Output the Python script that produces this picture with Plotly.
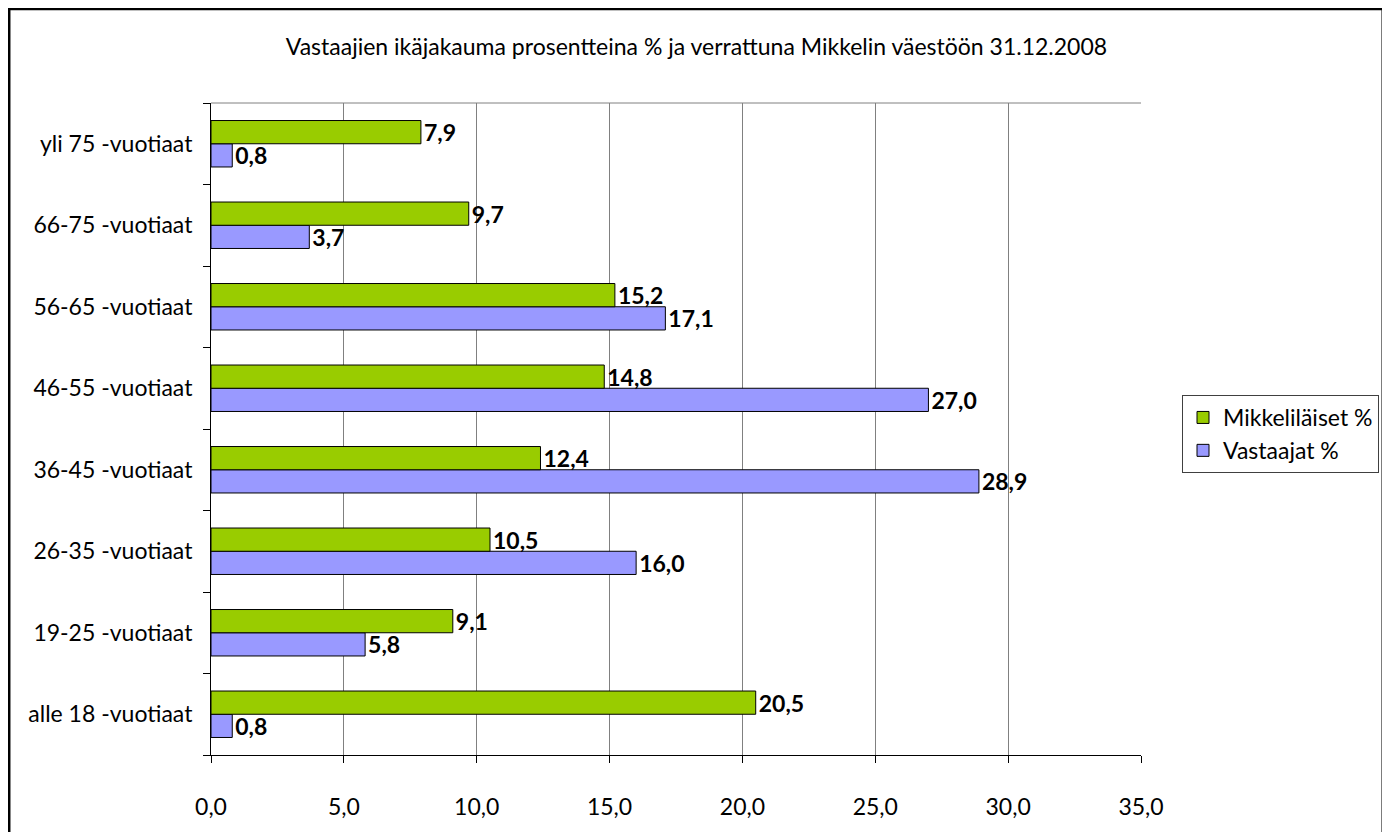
import plotly.graph_objects as go

categories = ["alle 18 -vuotiaat", "19-25 -vuotiaat", "26-35 -vuotiaat", "36-45 -vuotiaat",
              "46-55 -vuotiaat", "56-65 -vuotiaat", "66-75 -vuotiaat", "yli 75 -vuotiaat"]
mikkelilaiset = [20.5, 9.1, 10.5, 12.4, 14.8, 15.2, 9.7, 7.9]
vastaajat = [0.8, 5.8, 16.0, 28.9, 27.0, 17.1, 3.7, 0.8]
x_ticks = [0, 5, 10, 15, 20, 25, 30, 35]
x_tick_labels = ["0,0", "5,0", "10,0", "15,0", "20,0", "25,0", "30,0", "35,0"]

FONT = "Lato"
FS = 23

def fmt(v):
    return f"{v:.1f}".replace(".", ",")

fig = go.Figure()
fig.add_trace(go.Bar(
    y=categories, x=vastaajat, orientation="h", name="Vastaajat %",
    legendgroup="v", legendrank=2,
    marker=dict(color="#9999FF", line=dict(color="black", width=1)),
    text=[fmt(v) for v in vastaajat], textposition="outside", cliponaxis=False,
    constraintext="none",
    textfont=dict(family=FONT, size=FS, color="black", weight="bold"),
))
fig.add_trace(go.Bar(
    y=categories, x=mikkelilaiset, orientation="h", name="Mikkeliläiset %",
    legendgroup="m", legendrank=1,
    marker=dict(color="#99CC00", line=dict(color="black", width=1)),
    text=[fmt(v) for v in mikkelilaiset], textposition="outside", cliponaxis=False,
    constraintext="none",
    textfont=dict(family=FONT, size=FS, color="black", weight="bold"),
))

# page is offset by the 8px body margin; coordinates below are figure-local
W, H = 1382, 824
L, R, T, B = 203, 1134, 95, 747
pw, ph = R - L, B - T

def px_x(p):
    return (p - L) / pw

def px_y(p):
    return (B - p) / ph

fig.update_layout(
    width=W, height=H,
    margin=dict(l=L, r=W - R, t=T, b=H - B),
    paper_bgcolor="white", plot_bgcolor="white",
    barmode="group", bargap=0.43, bargroupgap=0,
    font=dict(family=FONT, size=FS, color="black"),
    title=dict(text="Vastaajien ikäjakauma prosentteina % ja verrattuna Mikkelin väestöön 31.12.2008",
               x=px_x(689), xref="paper", xanchor="center", y=1 - 39 / H, yanchor="middle",
               font=dict(family=FONT, size=FS, color="black")),
    legend=dict(x=px_x(1174), y=px_y(387), xanchor="left", yanchor="top",
                bordercolor="#404040", borderwidth=1, traceorder="grouped",
                font=dict(family=FONT, size=FS, color="black"),
                itemwidth=30, tracegroupgap=0),
    xaxis=dict(range=[0, 35], tickvals=x_ticks, ticktext=x_tick_labels,
               showgrid=True, gridcolor="#808080", gridwidth=1,
               showline=True, linecolor="black", linewidth=1,
               ticks="outside", ticklen=7, tickcolor="black",
               ticklabelstandoff=24, zeroline=False, fixedrange=True),
    yaxis=dict(type="category", categoryorder="array", categoryarray=categories,
               showline=True, linecolor="black", linewidth=1,
               ticks="outside", ticklen=7, tickcolor="black", tickson="boundaries",
               showgrid=False, ticklabelstandoff=13, fixedrange=True),
    shapes=[
        dict(type="line", xref="paper", yref="paper", x0=0, x1=1, y0=1, y1=1,
             line=dict(color="#808080", width=1)),
        dict(type="rect", xref="paper", yref="paper",
             x0=px_x(1), x1=px_x(1376), y0=px_y(840), y1=px_y(1),
             line=dict(color="black", width=2.5), fillcolor="rgba(0,0,0,0)", layer="below"),
    ],
)

fig.write_html("out.html")
